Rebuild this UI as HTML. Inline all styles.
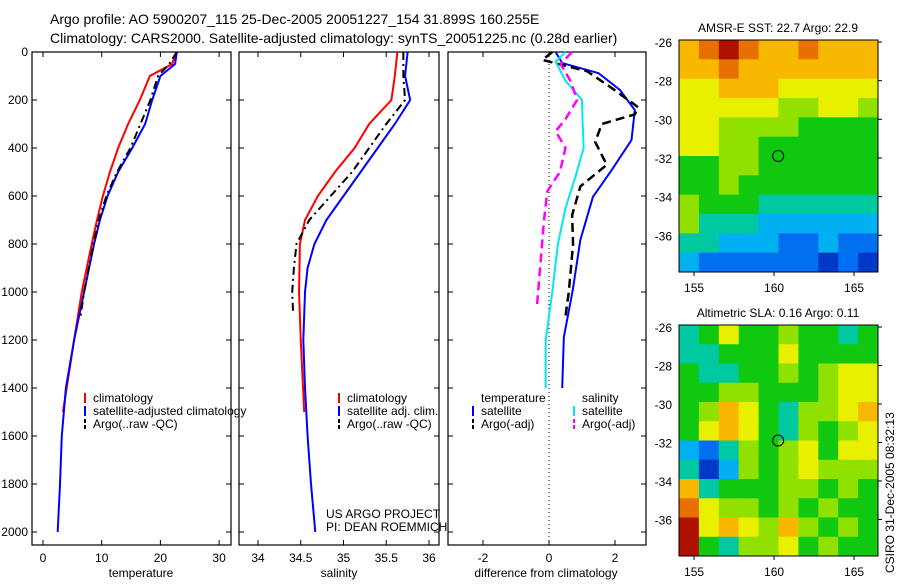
<!DOCTYPE html>
<html><head><meta charset="utf-8"><style>
body{margin:0;background:#fff;width:900px;height:580px;overflow:hidden}
svg text{font-family:"Liberation Sans",sans-serif;fill:#000}
</style></head><body>
<svg id="c" width="900" height="580" xmlns="http://www.w3.org/2000/svg">
<text x="50" y="24" font-size="14">Argo profile: AO 5900207_115 25-Dec-2005 20051227_154 31.899S 160.255E</text>
<text x="50" y="43" font-size="14">Climatology: CARS2000. Satellite-adjusted climatology: synTS_20051225.nc (0.28d earlier)</text>
<g id="g"></g>
</svg>
<script>
// depth levels & series
const tDepth=[0,50,100,200,300,400,500,600,700,800,1000,1200,1500];
const tClim=[22.7,22,18.2,16.5,14.5,12.8,11.4,10.2,9.2,8.3,6.6,5.3,3.4];
const tsDepth=[0,50,100,200,300,400,500,600,700,800,1000,1200,1400,1600,1800,2000];
const tSat=[22.8,22.5,20,18.6,17.4,15.2,12.8,11,9.7,8.7,7,5.3,3.9,3.2,2.9,2.5];
const taDepth=[0,50,100,200,300,400,500,600,700,800,1000,1100];
const tArgo=[22.8,21.5,19.6,18.3,16.6,14.9,12.6,10.8,9.5,8.6,7,6.4];
const sClimDepth=[0,100,200,300,400,500,600,700,800,1000,1200,1500];
const sClim=[35.63,35.6,35.56,35.3,35.13,34.9,34.7,34.55,34.49,34.48,34.5,34.54];
const sSatDepth=[0,100,200,300,400,500,600,700,800,900,1000,1200,1400,1600,1800,2000];
const sSat=[35.75,35.72,35.78,35.6,35.4,35.2,35.0,34.8,34.66,34.58,34.55,34.53,34.55,34.58,34.62,34.67];
const sArgoDepth=[0,100,200,300,400,500,600,700,800,900,1000,1085];
const sArgo=[35.7,35.7,35.72,35.5,35.3,35.1,34.85,34.6,34.45,34.42,34.4,34.41];
const dTSatDepth=[0,46,88,158,242,367,492,604,783,992,1188,1400];
const dTSat=[0.2,0.4,1.5,2.15,2.6,2.5,1.9,1.33,0.95,0.72,0.45,0.4];
const dTArgoDepth=[0,33,80,150,230,260,300,375,470,560,680,800,1000,1100];
const dTArgo=[0.1,-0.2,1.15,1.9,2.7,2.6,1.6,1.4,1.75,0.95,0.7,0.73,0.6,0.5];
const dSSatDepth=[0,40,120,200,300,400,520,650,800,1000,1200,1400];
const dSSat=[0.5,0.2,0.5,1.0,1.02,1.05,0.8,0.5,0.27,0.1,-0.1,-0.1];
const dSArgoDepth=[0,50,120,200,280,330,400,500,580,700,900,1050];
const dSArgo=[0.7,0.35,0.65,0.85,0.5,0.2,0.5,0.33,-0.05,-0.15,-0.27,-0.36];
const depthTicks=[0,200,400,600,800,1000,1200,1400,1600,1800,2000];
const tTicks=[0,10,20,30];
const sTicks=[34,34.5,35,35.5,36];
const dTicks=[-2,0,2];
const sstGrid=["7898778777","7787777777","6677766666","6666655665","6655554444","6655444444","4455444444","4454444444","5444333333","5333222222","3322211211","2111111010"];
const slaGrid=["3464454434","3344464444","4334454566","4455444566","4576435567","4676435456","2135456466","3025456555","7344455454","8655454544","9676575454","9435564544"];
const palette=["#0038c8","#0070f0","#00b0f0","#00c8a0","#10c810","#90e000","#e8f000","#f8b800","#e87000","#b01000"];
const latTicks=[26,28,30,32,34,36];
const lonTicks=[155,160,165];

const NS="http://www.w3.org/2000/svg",G=document.getElementById('g');
function el(t,a,p){const e=document.createElementNS(NS,t);for(const k in a)e.setAttribute(k,a[k]);(p||G).appendChild(e);return e;}
const yD=d=>52+0.24*d;
const xT=v=>43+5.87*v, xS=v=>258+85.5*(v-34), xDf=v=>549+33*v;
function panel(x0,x1,name,ticks,xf,lab,xl){
 const r=el('rect',{x:x0,y:52,width:x1-x0,height:493,fill:'none',stroke:'#000','stroke-width':1.2});
 
 depthTicks.forEach(d=>{el('line',{x1:x0,x2:x0+5,y1:yD(d),y2:yD(d),stroke:'#000'});el('line',{x1:x1,x2:x1-5,y1:yD(d),y2:yD(d),stroke:'#000'});});
 ticks.forEach(v=>{const x=xf(v);el('line',{x1:x,x2:x,y1:545,y2:540,stroke:'#000'});el('line',{x1:x,x2:x,y1:52,y2:57,stroke:'#000'});
  const t=el('text',{x:x,y:562,'font-size':12,'text-anchor':'middle'});t.textContent=v;
  });
 const t=el('text',{x:xl,y:577,'font-size':12,'text-anchor':'middle'});t.textContent=lab;
 
}
panel(32,231,'temperature-panel',tTicks,xT,'temperature',141);
panel(239,439,'salinity-panel',sTicks,xS,'salinity',339);
panel(448,646,'difference-panel',dTicks,xDf,'difference from climatology',546);
depthTicks.forEach(d=>{const t=el('text',{x:28,y:yD(d)+4,'font-size':12,'text-anchor':'end'});t.textContent=d;
 });
const z=el('line',{x1:549,x2:549,y1:52,y2:545,stroke:'#000','stroke-dasharray':'1,3'});

function series(depths,vals,xf,color,dash,name,w){
 const p=el('polyline',{points:depths.map((d,i)=>xf(vals[i])+','+yD(d)).join(' '),fill:'none',stroke:color,'stroke-width':w||2,'stroke-dasharray':dash||''});
 
}
series(tDepth,tClim,xT,'#f00','','temp-climatology-line');
series(tsDepth,tSat,xT,'#00f','','temp-satellite-line');
series(taDepth,tArgo,xT,'#000','8,4,2,4','temp-argo-line');
series(sClimDepth,sClim,xS,'#f00','','sal-climatology-line');
series(sSatDepth,sSat,xS,'#00f','','sal-satellite-line');
series(sArgoDepth,sArgo,xS,'#000','8,4,2,4','sal-argo-line');
series(dTSatDepth,dTSat,xDf,'#00f','','diff-temp-satellite-line');
series(dTArgoDepth,dTArgo,xDf,'#000','9,5','diff-temp-argo-line',2.5);
series(dSSatDepth,dSSat,xDf,'#00e8f0','','diff-sal-satellite-line');
series(dSArgoDepth,dSArgo,xDf,'#f0f','9,5','diff-sal-argo-line',2.5);
function leg(x,y,color,dash,label,name){
 el('line',{x1:x,x2:x,y1:y-9,y2:y+1,stroke:color,'stroke-width':2,'stroke-dasharray':dash||''});
 const t=el('text',{x:x+8,y:y,'font-size':12});t.textContent=label;
 
}
leg(85,402,'#f00','','climatology','legend-climatology');
leg(85,415,'#00f','','satellite-adjusted climatology','legend-satellite-adjusted');
leg(85,428,'#000','4,2','Argo(..raw -QC)','legend-argo');
leg(339,402,'#f00','','climatology','legend-sal-climatology');
leg(339,415,'#00f','','satellite adj. clim.','legend-sal-satellite');
leg(339,428,'#000','4,2','Argo(..raw -QC)','legend-sal-argo');
let t=el('text',{x:481,y:402,'font-size':12});t.textContent='temperature';

t=el('text',{x:582,y:402,'font-size':12});t.textContent='salinity';

leg(473,415,'#00f','','satellite','legend-diff-temp-satellite');
leg(473,428,'#000','4,2','Argo(-adj)','legend-diff-temp-argo');
leg(574,415,'#00e8f0','','satellite','legend-diff-sal-satellite');
leg(574,428,'#f0f','4,2','Argo(-adj)','legend-diff-sal-argo');
t=el('text',{x:326,y:518,'font-size':12});t.textContent='US ARGO PROJECT';

t=el('text',{x:326,y:531,'font-size':12});t.textContent='PI: DEAN ROEMMICH';

function map(y0,y1,grid,title,name){
 const x0=679,x1=878,rows=grid.length,cols=grid[0].length,cw=(x1-x0)/cols,ch=(y1-y0)/rows;
 grid.forEach((row,r)=>row.split('').forEach((c,k)=>{
  const e=el('rect',{x:x0+k*cw,y:y0+r*ch,width:cw+0.5,height:ch+0.5,fill:palette[+c]});
  }));
 const f=el('rect',{x:x0,y:y0,width:x1-x0,height:y1-y0,fill:'none',stroke:'#000'});
 
 const lat=v=>y0+2+(v-26)*(y1-y0-2)/11.9, lon=v=>x0+(v-154.06)*16;
 latTicks.forEach(v=>{const y=lat(v);el('line',{x1:x1,x2:x1+4,y1:y,y2:y,stroke:'#000'});
  const t=el('text',{x:672,y:y+5,'font-size':12,'text-anchor':'end'});t.textContent='-'+v;
  });
 lonTicks.forEach(v=>{const x=lon(v);el('line',{x1:x,x2:x,y1:y1,y2:y1+4,stroke:'#000'});
  const t=el('text',{x:x,y:y1+20,'font-size':12,'text-anchor':'middle'});t.textContent=v;
  });
 const m=el('circle',{cx:lon(160.255),cy:lat(31.899),r:5.5,fill:'none',stroke:'#000'});
 
 const tt=el('text',{x:778,y:y0-8,'font-size':12,'text-anchor':'middle'});tt.textContent=title;
 
}
map(40,272,sstGrid,'AMSR-E SST: 22.7 Argo: 22.9','sst-map');
map(325,556,slaGrid,'Altimetric SLA: 0.16 Argo: 0.11','sla-map');
t=el('text',{x:0,y:0,'font-size':12,transform:'translate(894,573) rotate(-90)'});t.textContent='CSIRO 31-Dec-2005 08:32:13';

</script>
</body></html>
